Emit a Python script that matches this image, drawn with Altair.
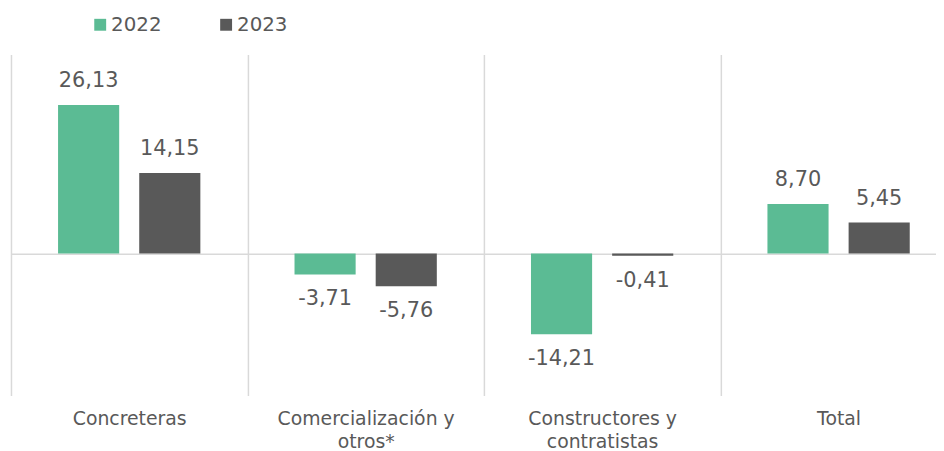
import altair as alt
import pandas as pd

categories = ["Concreteras", "Comercialización y\notros*", "Constructores y\ncontratistas", "Total"]
years = ["2022", "2023"]
values_2022 = [26.13, -3.71, -14.21, 8.70]
values_2023 = [14.15, -5.76, -0.41, 5.45]

rows = []
for c, a, b in zip(categories, values_2022, values_2023):
    rows.append({"cat": c, "year": "2022", "value": a})
    rows.append({"cat": c, "year": "2023", "value": b})
df = pd.DataFrame(rows)

W, H = 933, 344
FONT = "DejaVu Sans"
TXT = "#595959"
GRID = "#D9D9D9"

xscale = alt.Scale(domain=categories, range=[0, 954], paddingInner=0, paddingOuter=0)
xaxis = alt.Axis(title=None, domain=False, ticks=False, grid=True, tickBand="extent",
                 gridColor=GRID, gridWidth=1.5, labelAngle=0,
                 labelExpr="split(datum.label, '\\n')", labelFontSize=19, labelColor=TXT,
                 labelPadding=14, labelLineHeight=23, labelFont=FONT, labelLimit=400,
                 labelOverlap=False)

x = alt.X("cat:N", scale=xscale, sort=categories, axis=xaxis)
xoff = alt.XOffset("year:N", scale=alt.Scale(domain=years, paddingInner=0.247, paddingOuter=0.58))
y = alt.Y("value:Q", scale=alt.Scale(domain=[-25, 35]),
          axis=alt.Axis(values=[0], grid=True, gridColor=GRID, gridWidth=1.5, labels=False,
                        ticks=False, domain=False, title=None))

bars = alt.Chart(df).mark_bar().encode(
    x=x, xOffset=xoff, y=y,
    color=alt.Color("year:N", scale=alt.Scale(domain=years, range=["#5BBB94", "#595959"]),
                    legend=alt.Legend(title=None, orient="none", legendX=80, legendY=-40,
                                      direction="horizontal", symbolType="square",
                                      symbolSize=144, labelFontSize=20, labelColor=TXT,
                                      labelFont=FONT, columnPadding=55, labelOffset=1,
                                      symbolStrokeWidth=0)),
)

base_text = alt.Chart(df).transform_calculate(
    label="(datum.value < 0 ? '-' : '') + replace(format(abs(datum.value), '.2f'), '.', ',')"
)
pos_text = base_text.transform_filter("datum.value >= 0").mark_text(
    dy=-24, fontSize=21, color=TXT, font=FONT, baseline="middle"
).encode(x=x, xOffset=xoff, y=y, text="label:N")
neg_text = base_text.transform_filter("datum.value < 0").mark_text(
    dy=25, fontSize=21, color=TXT, font=FONT, baseline="middle"
).encode(x=x, xOffset=xoff, y=y, text="label:N")

chart = alt.layer(bars, pos_text, neg_text).properties(
    width=W, height=H,
    autosize=alt.AutoSizeParams(type="none"),
    padding={"left": 3, "top": 45, "right": 0, "bottom": 55},
).configure_view(stroke=None)

chart.save("out.html", embed_options={"renderer": "svg", "actions": False})
